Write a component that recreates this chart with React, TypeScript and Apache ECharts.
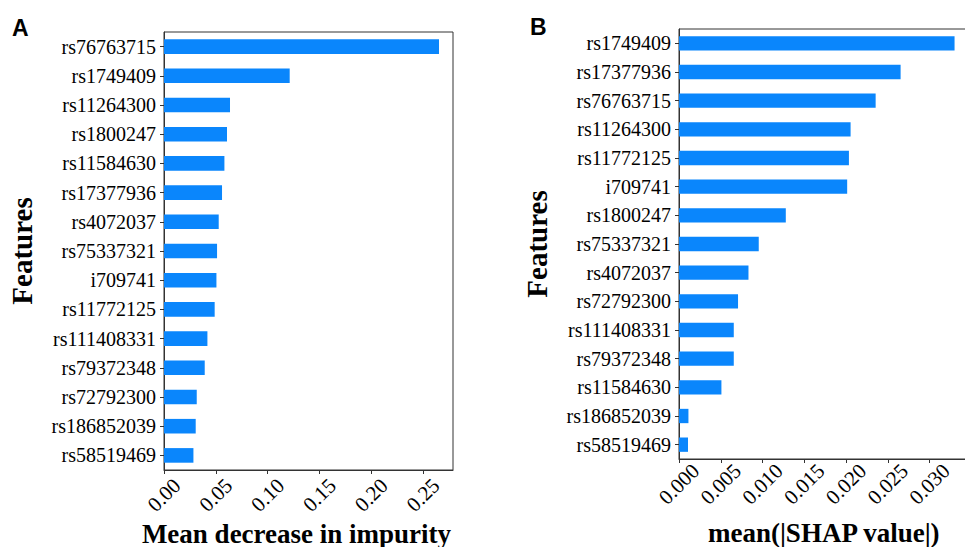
import React, { useEffect, useRef } from "react";
import * as echarts from "echarts";

const featuresA = [
  "rs76763715", "rs1749409", "rs11264300", "rs1800247", "rs11584630",
  "rs17377936", "rs4072037", "rs75337321", "i709741", "rs11772125",
  "rs111408331", "rs79372348", "rs72792300", "rs186852039", "rs58519469",
];
const valuesA = [
  0.2654, 0.1213, 0.0637, 0.0608, 0.0583, 0.056, 0.0528, 0.0512, 0.0506,
  0.0489, 0.0419, 0.0393, 0.0316, 0.0306, 0.0284,
];
const featuresB = [
  "rs1749409", "rs17377936", "rs76763715", "rs11264300", "rs11772125",
  "i709741", "rs1800247", "rs75337321", "rs4072037", "rs72792300",
  "rs111408331", "rs79372348", "rs11584630", "rs186852039", "rs58519469",
];
const valuesB = [
  0.0330, 0.02654, 0.02355, 0.02055, 0.02035, 0.02014, 0.01279, 0.00955,
  0.00832, 0.00707, 0.00656, 0.00656, 0.00508, 0.00113, 0.00108,
];
const ticksA = [0, 0.05, 0.1, 0.15, 0.2, 0.25];
const ticksB = [0, 0.005, 0.01, 0.015, 0.02, 0.025, 0.03];

const SERIF = "'Liberation Serif', 'Times New Roman', serif";
const BAR = "#0a86fc";

export default function App() {
  const ref = useRef<HTMLDivElement>(null);
  useEffect(() => {
    document.body.style.margin = "0";
    const chart = echarts.init(ref.current!, null, { renderer: "svg" });
    const xAxisCommon = (digits: number, ticks: number[]) => ({
      type: "value" as const,
      min: 0,
      splitLine: { show: false },
      axisLine: { show: true, lineStyle: { color: "#333", width: 1 } },
      axisTick: { show: true, length: 4, lineStyle: { color: "#333" } },
      axisLabel: {
        rotate: 45,
        align: "center" as const,
        verticalAlign: "middle" as const,
        fontFamily: SERIF,
        fontSize: 21,
        color: "#000",
        margin: 25,
        showMaxLabel: false,
        formatter: (v: number) =>
          ticks.some((t) => Math.abs(t - v) < 1e-9) ? v.toFixed(digits) : "",
      },
      nameLocation: "middle" as const,
      nameMoveOverlap: false,
    });
    const yAxisCommon = {
      type: "category" as const,
      inverse: true,
      axisLine: { show: true, lineStyle: { color: "#333", width: 1 } },
      axisTick: { show: true, length: 4, alignWithLabel: true, lineStyle: { color: "#333" } },
      axisLabel: { fontFamily: SERIF, fontSize: 20, color: "#000", margin: 8 },
      nameLocation: "middle" as const,
      nameMoveOverlap: false,
      nameRotate: 90,
      nameTextStyle: {
        fontFamily: SERIF,
        fontWeight: "bold" as const,
        fontSize: 29,
        color: "#000",
      },
    };
    chart.setOption({
      animation: false,
      graphic: [
        {
          type: "text",
          left: 12,
          top: 16,
          style: { text: "A", font: "bold 23px 'Liberation Sans', Arial, sans-serif", fill: "#000" },
        },
        {
          type: "text",
          left: 530,
          top: 15,
          style: { text: "B", font: "bold 23px 'Liberation Sans', Arial, sans-serif", fill: "#000" },
        },
      ],
      grid: [
        { left: 164, top: 32, width: 289, height: 438, outerBoundsMode: "none", containLabel: false, show: true, borderColor: "#333", borderWidth: 1, backgroundColor: "transparent" },
        { left: 679, top: 29, width: 289.5, height: 430, outerBoundsMode: "none", containLabel: false, show: true, borderColor: "#333", borderWidth: 1, backgroundColor: "transparent" },
      ],
      xAxis: [
        {
          ...xAxisCommon(2, ticksA), gridIndex: 0, max: 0.2789, interval: 0.05,
          name: "Mean decrease in impurity", nameGap: 50,
          nameTextStyle: { fontFamily: SERIF, fontWeight: "bold", fontSize: 27, color: "#000", padding: [0, 24, 0, 0] },
        },
        {
          ...xAxisCommon(3, ticksB), gridIndex: 1, max: 0.03467, interval: 0.005,
          name: "mean(|SHAP value|)", nameGap: 60,
          nameTextStyle: { fontFamily: SERIF, fontWeight: "bold", fontSize: 27, color: "#000" },
        },
      ],
      yAxis: [
        { ...yAxisCommon, gridIndex: 0, data: featuresA, name: "Features", nameGap: 128 },
        { ...yAxisCommon, gridIndex: 1, data: featuresB, name: "Features", nameGap: 128 },
      ],
      series: [
        { type: "bar", xAxisIndex: 0, yAxisIndex: 0, data: valuesA, barWidth: "50%", itemStyle: { color: BAR } },
        { type: "bar", xAxisIndex: 1, yAxisIndex: 1, data: valuesB, barWidth: "50%", itemStyle: { color: BAR } },
      ],
    });
    return () => chart.dispose();
  }, []);
  return <div ref={ref} style={{ width: 965, height: 547 }} />;
}
